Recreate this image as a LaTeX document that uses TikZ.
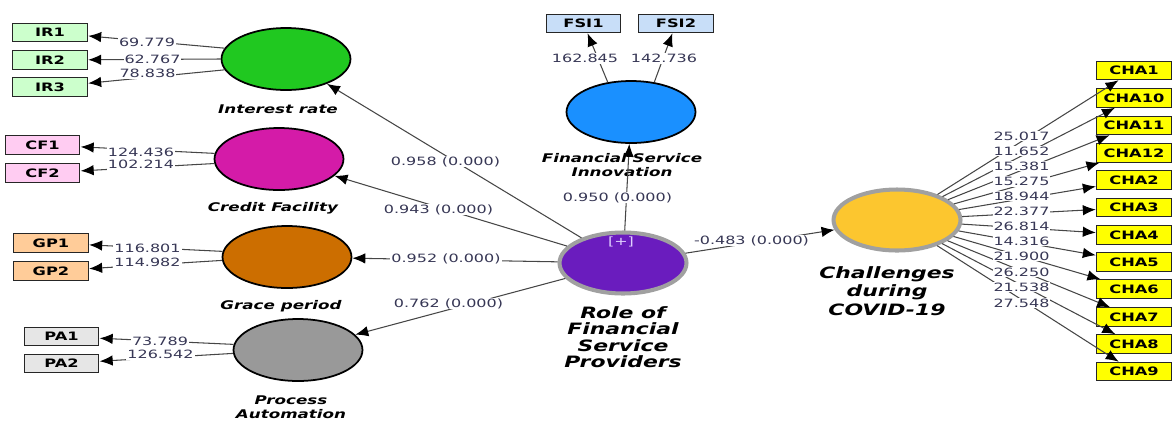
\documentclass[tikz,border=0pt]{standalone}
\usepackage{fontspec}
\setmainfont{DejaVu Sans}
\usepackage{tikz}
\usetikzlibrary{shapes, arrows.meta}
\definecolor{verde}{RGB}{32, 200, 32}
\definecolor{verdeclaro}{RGB}{204, 255, 204}
\definecolor{magenta}{RGB}{212, 27, 168}
\definecolor{rosa}{RGB}{255, 204, 242}
\definecolor{marron}{RGB}{204, 110, 0}
\definecolor{melocoton}{RGB}{255, 204, 153}
\definecolor{gris}{RGB}{153, 153, 153}
\definecolor{grisclaro}{RGB}{230, 230, 230}
\definecolor{azul}{RGB}{26, 144, 255}
\definecolor{azulclaro}{RGB}{200, 222, 248}
\definecolor{violeta}{RGB}{106, 28, 190}
\definecolor{dorado}{RGB}{252, 198, 47}
\definecolor{amarillo}{RGB}{255, 255, 0}
\definecolor{anillo}{RGB}{160, 160, 160}
\definecolor{cifra}{RGB}{55, 55, 85}
\definecolor{linea}{RGB}{70, 70, 70}
\definecolor{lavanda}{RGB}{224, 208, 255}
\tikzset{
    lv/.style={draw, ellipse, draw=black, line width=1pt, minimum width=2.58cm, minimum height=1.24cm, inner sep=0pt},
    lvring/.style={lv, draw=anillo, line width=2.3pt, minimum width=2.54cm, minimum height=1.22cm},
    ind/.style={draw, rectangle, draw=black!85, line width=0.6pt, xscale=1.4, minimum width=1.07cm, minimum height=0.37cm, inner sep=0pt, font=\fontsize{6.6}{7}\selectfont\bfseries},
    coef/.style={fill=white, inner sep=0.4pt, xscale=1.4, text=cifra, font=\fontsize{6.5}{7}\selectfont},
    lvname/.style={xscale=1.4, align=center, font=\fontsize{6.8}{8}\selectfont\bfseries\itshape},
    lvbig/.style={lvname, font=\fontsize{8.9}{9.3}\selectfont\bfseries\itshape},
    conn/.style={-{Latex[length=2.6mm, width=2.1mm, black]}, linea, line width=0.6pt},
}
\begin{document}
\begin{tikzpicture}[x=0.02cm, y=-0.02cm]
        \useasboundingbox (0,0) rectangle (1172,420);

        \node[lv, fill=verde] (ir) at (286,59) {};
        \node[lv, fill=magenta] (cf) at (279,159) {};
        \node[lv, fill=marron] (gp) at (287,257) {};
        \node[lv, fill=gris] (pa) at (298,350) {};
        \node[lv, fill=azul] (fsi) at (631,112) {};
        \node[lvring, fill=violeta] (rfsp) at (623,263) {};
        \node[lvring, fill=dorado] (chal) at (897,220) {};

        \node[ind, fill=verdeclaro] (ir1) at (50,32.5) {IR1};
        \node[ind, fill=verdeclaro] (ir2) at (50,60) {IR2};
        \node[ind, fill=verdeclaro] (ir3) at (50,87) {IR3};
        \node[ind, fill=rosa] (cf1) at (42.5,145) {CF1};
        \node[ind, fill=rosa] (cf2) at (42.5,173) {CF2};
        \node[ind, fill=melocoton] (gp1) at (51,243) {GP1};
        \node[ind, fill=melocoton] (gp2) at (51,271) {GP2};
        \node[ind, fill=grisclaro] (pa1) at (61.5,336.5) {PA1};
        \node[ind, fill=grisclaro] (pa2) at (61.5,363.5) {PA2};
        \node[ind, fill=azulclaro] (fsi1) at (583.5,23.5) {FSI1};
        \node[ind, fill=azulclaro] (fsi2) at (676,23.5) {FSI2};

        \node[ind, fill=amarillo] (cha1) at (1134,70.5) {CHA1};
        \node[ind, fill=amarillo] (cha10) at (1134,98) {CHA10};
        \node[ind, fill=amarillo] (cha11) at (1134,125.5) {CHA11};
        \node[ind, fill=amarillo] (cha12) at (1134,153) {CHA12};
        \node[ind, fill=amarillo] (cha2) at (1134,180) {CHA2};
        \node[ind, fill=amarillo] (cha3) at (1134,207.5) {CHA3};
        \node[ind, fill=amarillo] (cha4) at (1134,235) {CHA4};
        \node[ind, fill=amarillo] (cha5) at (1134,262) {CHA5};
        \node[ind, fill=amarillo] (cha6) at (1134,289) {CHA6};
        \node[ind, fill=amarillo] (cha7) at (1134,317) {CHA7};
        \node[ind, fill=amarillo] (cha8) at (1134,344) {CHA8};
        \node[ind, fill=amarillo] (cha9) at (1134,371.5) {CHA9};

        \node[lvname] (irname) at (278,109) {Interest rate};
        \node[lvname] (cfname) at (273,208) {Credit Facility};
        \node[lvname] (gpname) at (281,306) {Grace period};
        \node[lvname] (paname) at (291,407) {Process\\Automation};
        \node[lvname] (fsiname) at (622,165) {Financial Service\\Innovation};
        \node[lvbig] (rfspname) at (623,337) {Role of\\Financial\\Service\\Providers};
        \node[lvbig, font=\fontsize{8.9}{10.5}\selectfont\bfseries\itshape] (chalname) at (887,291) {Challenges\\during\\COVID-19};
        \node[xscale=1.4, text=lavanda, font=\fontsize{6.5}{7}\selectfont] (plus) at (621,242) {[+]};

        \draw[conn] (ir.170) -- (ir1);
        \draw[conn] (ir.180) -- (ir2);
        \draw[conn] (ir.190) -- (ir3);
        \draw[conn] (cf.175) -- (cf1);
        \draw[conn] (cf.184) -- (cf2);
        \draw[conn] (gp.175) -- (gp1);
        \draw[conn] (gp.183) -- (gp2);
        \draw[conn] (pa.175) -- (pa1);
        \draw[conn] (pa.183) -- (pa2);
        \draw[conn] (fsi.128) -- (fsi1);
        \draw[conn] (fsi.52) -- (fsi2);

        \draw[conn] (rfsp) -- (ir);
        \draw[conn] (rfsp) -- (cf);
        \draw[conn] (rfsp) -- (gp);
        \draw[conn] (rfsp) -- (pa);
        \draw[conn] (rfsp) -- (fsi);
        \draw[conn] (rfsp) -- (chal);

        \draw[conn] (chal) -- (cha1);
        \draw[conn] (chal) -- (cha10);
        \draw[conn] (chal) -- (cha11);
        \draw[conn] (chal) -- (cha12);
        \draw[conn] (chal) -- (cha2);
        \draw[conn] (chal) -- (cha3);
        \draw[conn] (chal) -- (cha4);
        \draw[conn] (chal) -- (cha5);
        \draw[conn] (chal) -- (cha6);
        \draw[conn] (chal) -- (cha7);
        \draw[conn] (chal) -- (cha8);
        \draw[conn] (chal) -- (cha9);

        \node[coef] (l1) at (147,42.5) {69.779};
        \node[coef] (l2) at (152.5,59.5) {62.767};
        \node[coef] (l3) at (147.5,73.5) {78.838};
        \node[coef] (l4) at (141,152.5) {124.436};
        \node[coef] (l5) at (141,164.5) {102.214};
        \node[coef] (l6) at (147.5,248.5) {116.801};
        \node[coef] (l7) at (147.5,262.5) {114.982};
        \node[coef] (l8) at (160,341.5) {73.789};
        \node[coef] (l9) at (160.5,354.5) {126.542};
        \node[coef] (l10) at (585,58.5) {162.845};
        \node[coef] (l11) at (664,58.5) {142.736};

        \node[coef] (p1) at (445.5,161.5) {0.958 (0.000)};
        \node[coef] (p2) at (438.5,209.5) {0.943 (0.000)};
        \node[coef] (p3) at (446,258.5) {0.952 (0.000)};
        \node[coef] (p4) at (448.5,303.5) {0.762 (0.000)};
        \node[coef] (p5) at (617.5,197.5) {0.950 (0.000)};
        \node[coef] (p6) at (751.5,240.5) {-0.483 (0.000)};

        \node[coef] (c1) at (1021.5,136) {25.017};
        \node[coef] (c2) at (1021.5,151) {11.652};
        \node[coef] (c3) at (1021.5,166) {15.381};
        \node[coef] (c4) at (1021.5,181.5) {15.275};
        \node[coef] (c5) at (1021.5,196) {18.944};
        \node[coef] (c6) at (1021.5,211) {22.377};
        \node[coef] (c7) at (1021.5,226) {26.814};
        \node[coef] (c8) at (1021.5,241) {14.316};
        \node[coef] (c9) at (1021.5,256) {21.900};
        \node[coef] (c10) at (1021.5,272) {26.250};
        \node[coef] (c11) at (1021.5,287) {21.538};
        \node[coef] (c12) at (1021.5,303) {27.548};
\end{tikzpicture}
\end{document}
